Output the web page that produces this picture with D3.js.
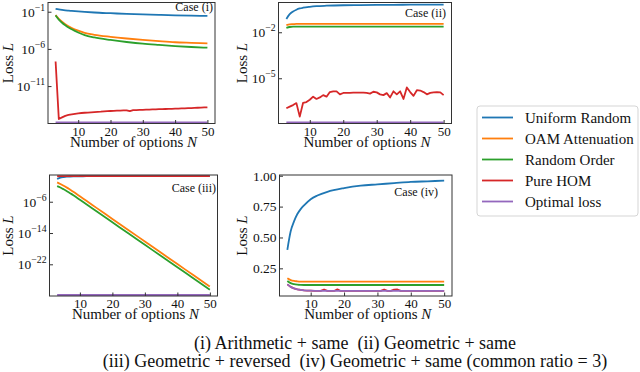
<!DOCTYPE html>
<html><head><meta charset="utf-8">
<script src="https://cdn.jsdelivr.net/npm/d3@7"></script>
<style>
html,body{margin:0;padding:0;background:#fff;}
svg{display:block;}
</style></head><body>
<svg id="chart" width="640" height="372"></svg>
<script>
// ---------- data ----------
const seriesNames = ["Uniform Random", "OAM Attenuation", "Random Order", "Pure HOM", "Optimal loss"];
const seriesColors = ["#1f77b4", "#ff7f0e", "#2ca02c", "#d62728", "#9467bd"];
const nAll = [3,4,5,6,7,8,9,10,11,12,13,14,15,16,17,18,19,20,21,22,23,24,25,26,27,28,29,30,
              31,32,33,34,35,36,37,38,39,40,41,42,43,44,45,46,47,48,49,50];
const nSparse = [3,4,5,6,7,8,10,12,15,20,25,30,35,40,45,50];
const xTicks = [10,20,30,40,50];
const caseLabels = ["Case (i)", "Case (ii)", "Case (iii)", "Case (iv)"];
const captionLines = ["(i) Arithmetic + same  (ii) Geometric + same",
                      "(iii) Geometric + reversed  (iv) Geometric + same (common ratio = 3)"];

// Case (i): arithmetic + same (log axis)
const c1Uniform = [0.24,0.2,0.174,0.155,0.141,0.129,0.11,0.095,0.079,0.063,0.051,0.044,0.038,0.033,0.0295,0.027];
const c1OAM     = [3.6e-2,1.12e-2,4.5e-3,2.1e-3,1.12e-3,6.6e-4,2.8e-4,1.4e-4,7.9e-5,4.2e-5,2.5e-5,1.6e-5,1.1e-5,7.9e-6,6.6e-6,5.6e-6];
const c1Random  = [3.2e-2,8.9e-3,3.3e-3,1.5e-3,7.6e-4,4.3e-4,1.6e-4,7.1e-5,3.5e-5,1.6e-5,8.5e-6,5.0e-6,3.4e-6,2.4e-6,1.8e-6,1.45e-6];
const c1HOM     = [2.0e-8,3.7e-16,6.3e-16,1.0e-15,1.3e-15,1.6e-15,1.9e-15,2.2e-15,2.4e-15,2.6e-15,2.75e-15,2.95e-15,
                   3.2e-15,3.4e-15,3.6e-15,3.9e-15,4.2e-15,4.5e-15,4.7e-15,4.9e-15,5.1e-15,5.4e-15,5.6e-15,4.2e-15,
                   5.75e-15,6.0e-15,6.3e-15,6.5e-15,6.8e-15,6.9e-15,7.2e-15,7.4e-15,7.8e-15,7.9e-15,8.3e-15,8.5e-15,
                   8.9e-15,9.1e-15,9.5e-15,9.8e-15,1.02e-14,1.07e-14,1.12e-14,1.17e-14,1.23e-14,1.29e-14,1.35e-14,1.41e-14];
const c1Optimal = [0,0,0,0,0,0,0,0,0,0,0,0,0,0,0,0];

// Case (ii): geometric + same (log axis)
const c2Uniform = [0.074,0.151,0.224,0.295,0.355,0.398,0.457,0.501,0.537,0.575,0.589,0.603,0.617,0.624,0.631,0.631];
const c2OAM     = [0.029,0.033,0.034,0.035,0.035,0.035,0.035,0.035,0.035,0.035,0.035,0.035,0.035,0.035,0.035,0.035];
const c2Random  = [0.019,0.022,0.0234,0.0234,0.0234,0.0234,0.0234,0.0234,0.0234,0.0234,0.0234,0.0234,0.0234,0.0234,0.0234,0.0234];
const c2HOM     = [1.10e-7,1.41e-7,1.78e-7,2.40e-7,3.16e-8,2.51e-7,2.82e-7,3.98e-7,6.31e-7,4.47e-7,5.62e-7,7.94e-7,
                   6.31e-7,1.26e-6,1.41e-6,1.41e-6,8.91e-7,1.10e-6,1.12e-6,1.12e-6,1.15e-6,1.15e-6,1.17e-6,1.17e-6,
                   1.12e-6,1.0e-6,1.32e-6,1.20e-6,8.91e-7,7.94e-7,1.07e-6,5.62e-7,1.41e-6,8.91e-7,1.41e-6,4.47e-7,
                   2.51e-6,1.26e-6,7.08e-7,1.66e-6,1.58e-6,1.26e-6,8.91e-7,1.12e-6,1.20e-6,1.26e-6,1.20e-6,7.94e-7];
const c2Optimal = [0,0,0,0,0,0,0,0,0,0,0,0,0,0,0,0];

// Case (iii): geometric + reversed (log axis)
const c3Uniform = [0.63,1.4,2.0,2.5,2.8,3.0,3.2,3.3,3.4,3.45,3.5,3.5,3.5,3.5,3.5,3.5];
const c3OAM     = [9.1e-2,3.5e-2,1.26e-2,4.0e-3,1.17e-3,3.4e-4,2.4e-5,1.66e-6,3.1e-8,4.0e-11,5.2e-14,6.8e-17,8.9e-20,1.17e-22,1.5e-25,2.0e-28];
const c3Random  = [1.0e-2,4.2e-3,1.5e-3,5.0e-4,1.5e-4,4.5e-5,3.2e-6,2.2e-7,4.2e-9,5.6e-12,7.4e-15,1.0e-17,1.3e-20,1.8e-23,2.3e-26,3.2e-29];
const c3HOM     = [3.2,3.4,3.5,3.5,3.5,3.5,3.5,3.5,3.5,3.5,3.5,3.5,3.5,3.5,3.5,3.5];
const c3Optimal = [0,0,0,0,0,0,0,0,0,0,0,0,0,0,0,0];

// Case (iv): geometric + same, common ratio 3 (linear axis)
const c4Uniform = [0.40,0.55,0.63,0.69,0.73,0.76,0.81,0.84,0.87,0.90,0.92,0.93,0.94,0.95,0.955,0.96];
const c4OAM     = [0.17,0.155,0.148,0.145,0.143,0.142,0.142,0.142,0.142,0.142,0.142,0.142,0.142,0.142,0.142,0.142];
const c4Random  = [0.148,0.13,0.122,0.118,0.116,0.115,0.115,0.115,0.115,0.115,0.115,0.115,0.115,0.115,0.115,0.115];
const c4HOM     = [0.12,0.1,0.088,0.08,0.075,0.072,0.07,0.069,0.068,0.068,0.067,0.079,0.067,0.067,0.067,0.08,
                   0.067,0.067,0.067,0.067,0.067,0.067,0.067,0.067,0.067,0.067,0.067,0.067,0.067,0.079,0.067,0.067,
                   0.078,0.079,0.067,0.067,0.067,0.067,0.067,0.067,0.067,0.067,0.067,0.067,0.067,0.067,0.067,0.067];
const c4Optimal = [0.12,0.1,0.088,0.08,0.075,0.072,0.069,0.068,0.067,0.067,0.067,0.067,0.067,0.067,0.067,0.067];

// y ticks
const c1YTicks = [1e-1, 1e-6, 1e-11];
const c2YTicks = [1e-2, 1e-5];
const c3YTicks = [1e-6, 1e-14, 1e-22];
const c4YTicks = [0.25, 0.50, 0.75, 1.00];

// ---------- layout ----------
const FONT = "'Liberation Serif', 'Times New Roman', Times, serif";
const panels = [
  { label: caseLabels[0], log: true, yDomain: [Math.pow(10,-16.03), Math.pow(10,0.24)], yTicks: c1YTicks,
    x0: 48, x1: 215, y0: 2.5, y1: 123.5, caseX: 213, caseY: 11, yLabX: 13,
    series: [c1Uniform, c1OAM, c1Random, c1HOM, c1Optimal], xs: [nSparse, nSparse, nSparse, nAll, nSparse] },
  { label: caseLabels[1], log: true, yDomain: [Math.pow(10,-7.95), Math.pow(10,-0.06)], yTicks: c2YTicks,
    x0: 278.5, x1: 451.5, y0: 2.5, y1: 123.5, caseX: 446, caseY: 16.5, yLabX: 246.5,
    series: [c2Uniform, c2OAM, c2Random, c2HOM, c2Optimal], xs: [nSparse, nSparse, nSparse, nAll, nSparse] },
  { label: caseLabels[2], log: true, yDomain: [Math.pow(10,-30.1), Math.pow(10,0.83)], yTicks: c3YTicks,
    x0: 49.5, x1: 217.5, y0: 175, y1: 296, caseX: 216, caseY: 192, yLabX: 12.5,
    series: [c3Uniform, c3OAM, c3Random, c3HOM, c3Optimal], xs: [nSparse, nSparse, nSparse, nSparse, nSparse] },
  { label: caseLabels[3], log: false, yDomain: [0.026, 1.006], yTicks: c4YTicks,
    x0: 279.5, x1: 452, y0: 175, y1: 296, caseX: 438, caseY: 195.5, yLabX: 246.5,
    series: [c4Uniform, c4OAM, c4Random, c4HOM, c4Optimal], xs: [nSparse, nSparse, nSparse, nAll, nSparse] }
];

const svg = d3.select("#chart").style("font-family", FONT);
const defs = svg.append("defs");
const axisColor = "#333";

panels.forEach((p, pi) => {
  const x = d3.scaleLinear().domain([0.65, 52.35]).range([p.x0, p.x1]);
  const y = (p.log ? d3.scaleLog() : d3.scaleLinear()).domain(p.yDomain).range([p.y1, p.y0]).clamp(true);
  // non-positive values (zero loss) sit on the lower edge of a log axis
  const yv = v => { if (p.log && !(v > 0)) return p.y1 - 1; return y(v); };

  defs.append("clipPath").attr("id", "clip" + pi)
    .append("rect").attr("x", p.x0).attr("y", p.y0).attr("width", p.x1 - p.x0).attr("height", p.y1 - p.y0);

  const g = svg.append("g");
  const lines = g.append("g").attr("clip-path", "url(#clip" + pi + ")");
  p.series.forEach((vals, si) => {
    const xsArr = p.xs[si];
    const pts = vals.map((v, i) => [xsArr[i], v]);
    const line = d3.line().x(d => x(d[0])).y(d => yv(d[1])).curve(xsArr === nAll ? d3.curveLinear : d3.curveMonotoneX);
    lines.append("path").attr("d", line(pts)).attr("fill", "none")
      .attr("stroke", seriesColors[si]).attr("stroke-width", 1.8).attr("stroke-linejoin", "round");
  });

  // x axis
  const xAx = g.append("g").attr("transform", `translate(0,${p.y1})`)
    .call(d3.axisBottom(x).tickValues(xTicks).tickSizeInner(-3.5).tickSizeOuter(0).tickPadding(3));
  xAx.select(".domain").remove();
  xAx.selectAll("line").attr("stroke", axisColor);
  xAx.selectAll("text").attr("font-size", 13).attr("fill", "#111");

  // y axis
  const yAxis = d3.axisLeft(y).tickValues(p.yTicks).tickSizeInner(-3.5).tickSizeOuter(0).tickPadding(3);
  if (!p.log) yAxis.tickFormat(d3.format(".2f"));
  const yAx = g.append("g").attr("transform", `translate(${p.x0},0)`).call(yAxis);
  yAx.select(".domain").remove();
  yAx.selectAll("line").attr("stroke", axisColor);
  yAx.selectAll("text").attr("font-size", 13.5).attr("fill", "#111");
  if (p.log) {
    yAx.selectAll("text").each(function(d) {
      const t = d3.select(this);
      const e = Math.round(Math.log10(d));
      t.text(null);
      t.append("tspan").text("10");
      t.append("tspan").attr("dy", "-0.6em").attr("font-size", "0.72em").text("\u2212" + Math.abs(e));
    });
  }

  // frame
  g.append("rect").attr("x", p.x0).attr("y", p.y0).attr("width", p.x1 - p.x0).attr("height", p.y1 - p.y0)
    .attr("fill", "none").attr("stroke", axisColor).attr("stroke-width", 1);

  // case label
  g.append("text").attr("x", p.caseX).attr("y", p.caseY).attr("text-anchor", "end")
    .attr("font-size", 12).attr("fill", "#111").text(p.label);

  // axis labels
  const xl = g.append("text").attr("x", (p.x0 + p.x1) / 2 + 2).attr("y", p.y1 + 23)
    .attr("text-anchor", "middle").attr("font-size", 15).attr("fill", "#111");
  xl.append("tspan").text("Number of options ");
  xl.append("tspan").attr("font-style", "italic").text("N");

  const yl = g.append("text").attr("transform", `translate(${p.yLabX},${(p.y0 + p.y1) / 2}) rotate(-90)`)
    .attr("text-anchor", "middle").attr("font-size", 15).attr("fill", "#111");
  yl.append("tspan").text("Loss ");
  yl.append("tspan").attr("font-style", "italic").text("L");
});

// legend
const lg = svg.append("g");
lg.append("rect").attr("x", 477).attr("y", 106).attr("width", 161).attr("height", 110).attr("rx", 3)
  .attr("fill", "#fff").attr("stroke", "#d5d5d5").attr("stroke-width", 1);
seriesNames.forEach((name, i) => {
  const cy = 117.5 + i * 21;
  lg.append("line").attr("x1", 482).attr("x2", 513).attr("y1", cy).attr("y2", cy)
    .attr("stroke", seriesColors[i]).attr("stroke-width", 1.8);
  lg.append("text").attr("x", 525).attr("y", cy).attr("dy", "0.35em").attr("font-size", 15)
    .attr("fill", "#111").text(name);
});

// caption
captionLines.forEach((line, i) => {
  svg.append("text").attr("x", 355).attr("y", i === 0 ? 348.5 : 366.5).attr("text-anchor", "middle")
    .attr("font-size", 18).attr("fill", "#111").style("white-space", "pre").text(line);
});

// make sure every text uses the serif family (axis groups set their own sans-serif)
svg.selectAll("text").style("font-family", FONT);
</script>
</body></html>
